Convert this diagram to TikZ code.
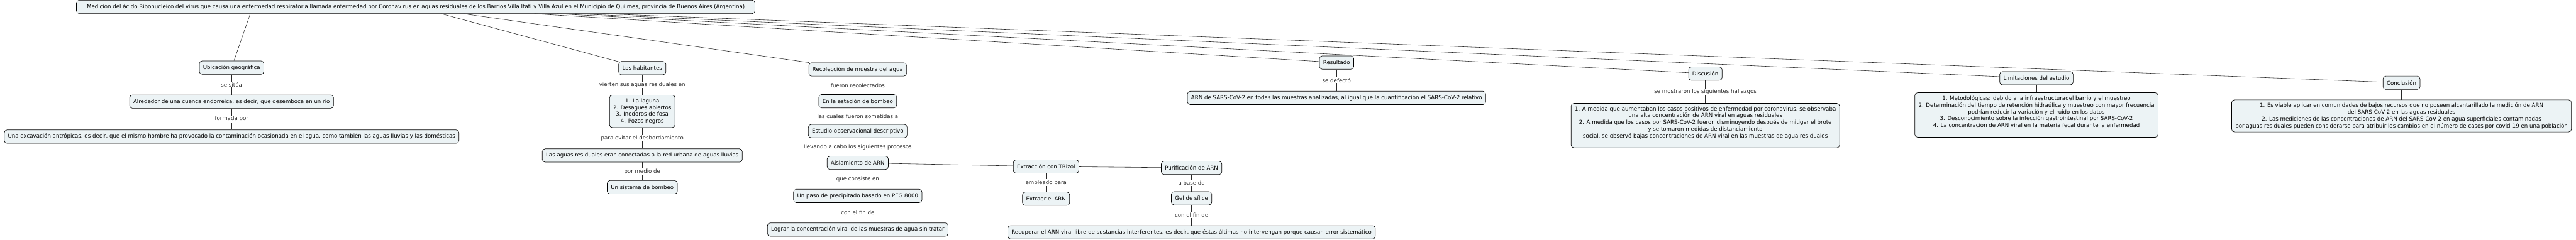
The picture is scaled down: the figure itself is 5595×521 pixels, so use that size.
\documentclass[tikz,border=0pt]{standalone}
\definecolor{cmapFill}{RGB}{236,243,245}
\definecolor{cmapLine}{RGB}{40,40,40}
\usepackage{fontspec}
\setmainfont{DejaVu Sans}
\usepackage{tikz}
\usetikzlibrary{positioning,calc}

\begin{document}
\begin{tikzpicture}[x=1pt,y=-1pt,
    concept/.style={draw=black,fill=cmapFill,rounded corners=6pt,line width=0.9pt,
      font=\fontsize{11.8}{14.7}\selectfont,inner xsep=8pt,inner ysep=7pt,
      minimum height=29pt,align=center},
    link/.style={cmapLine,line width=0.8pt},
    lbl/.style={fill=white,inner sep=1.5pt,font=\fontsize{11.8}{14.7}\selectfont}]
        \useasboundingbox (0,0) rectangle (5595,521);
        % Root concept
        \node[concept,minimum width=1474pt] (root) at (903,15) {Medición del ácido Ribonucleico del virus que causa una enfermedad respiratoria llamada enfermedad por Coronavirus en aguas residuales de los Barrios Villa Itatí y Villa Azul en el Municipio de Quilmes, provincia de Buenos Aires (Argentina)};
        % Exit points on the root
        \coordinate (r1) at ($(root.south west)+(378,0)$);
        \coordinate (r2) at ($(root.south west)+(793,0)$);
        \coordinate (r3) at ($(root.south west)+(841,0)$);
        \coordinate (r4) at ($(root.south west)+(995,0)$);
        \coordinate (r5) at ($(root.south west)+(1044,0)$);
        \coordinate (r6) at ($(root.south west)+(1084,0)$);
        \coordinate (r7) at ($(root.south west)+(1144,0)$);
        % Location branch
        \node[concept] (ubic) at (503,147) {Ubicación geográfica};
        \node[concept] (cuenca) at (503,221) {Alrededor de una cuenca endorreíca, es decir, que desemboca en un río};
        \node[concept] (excav) at (503,297) {Una excavación antrópicas, es decir, que el mismo hombre ha provocado la contaminación ocasionada en el agua, como también las aguas lluvias y las domésticas};
        % Inhabitants branch
        \node[concept] (hab) at (1395,148) {Los habitantes};
        \node[concept,inner ysep=7.5pt] (vertido) at (1395,242) {1. La laguna\\2. Desagues abiertos\\3. Inodoros de fosa\\4. Pozos negros};
        \node[concept] (conex) at (1395,338) {Las aguas residuales eran conectadas a la red urbana de aguas lluvias};
        \node[concept] (bombeo) at (1395,407) {Un sistema de bombeo};
        % Sampling branch
        \node[concept] (recol) at (1863,151) {Recolección de muestra del agua};
        \node[concept] (estac) at (1863,220) {En la estación de bombeo};
        \node[concept] (estud) at (1863,285) {Estudio observacional descriptivo};
        \node[concept] (aisl) at (1863,354) {Aislamiento de ARN};
        \node[concept] (peg) at (1863,426) {Un paso de precipitado basado en PEG 8000};
        \node[concept] (lograr) at (1863,499) {Lograr la concentración viral de las muestras de agua sin tratar};
        \node[concept] (trizol) at (2272,362) {Extracción con TRizol};
        \node[concept] (extraer) at (2272,432) {Extraer el ARN};
        \node[concept] (purif) at (2588,365) {Purificación de ARN};
        \node[concept] (gel) at (2588,431) {Gel de sílice};
        \node[concept] (recup) at (2588,505) {Recuperar el ARN viral libre de sustancias interferentes, es decir, que éstas últimas no intervengan porque causan error sistemático};
        % Results, discussion, limits, conclusion
        \node[concept] (result) at (2903,136) {Resultado};
        \node[concept] (arn) at (2903,213) {ARN de SARS-CoV-2 en todas las muestras analizadas, al igual que la cuantificación el SARS-CoV-2 relativo};
        \node[concept] (disc) at (3704,160) {Discusión};
        \node[concept] (hallaz) at (3704,273) {1. A medida que aumentaban los casos positivos de enfermedad por coronavirus, se observaba\\una alta concentración de ARN viral en aguas residuales\\2. A medida que los casos por SARS-CoV-2 fueron disminuyendo después de mitigar el brote\\y se tomaron medidas de distanciamiento\\social, se observó bajas concentraciones de ARN viral en las muestras de agua residuales\\\mbox{}};
        \node[concept] (limit) at (4423,170) {Limitaciones del estudio};
        \node[concept] (limtxt) at (4423,250) {1. Metodológicas: debido a la infraestructuradel barrio y el muestreo\\2. Determinación del tiempo de retención hidraúlica y muestreo con mayor frecuencia\\podrían reducir la variación y el ruido en los datos\\3. Desconocimiento sobre la infección gastrointestinal por SARS-CoV-2\\4. La concentración de ARN viral en la materia fecal durante la enfermedad\\\mbox{}};
        \node[concept] (concl) at (5216,180) {Conclusión};
        \node[concept] (conctxt) at (5216,252) {1. Es viable aplicar en comunidades de bajos recursos que no poseen alcantarillado la medición de ARN\\del SARS-CoV-2 en las aguas residuales\\2. Las mediciones de las concentraciones de ARN del SARS-CoV-2 en agua superficiales contaminadas\\por aguas residuales pueden considerarse para atribuir los cambios en el número de casos por covid-19 en una población};
        % Links from the root
        \draw[link] (r1) -- (ubic);
        \draw[link] (r2) -- (hab);
        \draw[link] (r3) -- (recol);
        \draw[link] (r4) -- (result);
        \draw[link] (r5) -- (disc);
        \draw[link] (r6) -- (limit);
        \draw[link] (r7) -- (concl);
        % Labelled links
        \draw[link] (ubic) -- node[lbl] {se sitúa} (cuenca);
        \draw[link] (cuenca) -- node[lbl] {formada por} (excav);
        \draw[link] (hab) -- node[lbl] {vierten sus aguas residuales en} (vertido);
        \draw[link] (vertido) -- node[lbl] {para evitar el desbordamiento} (conex);
        \draw[link] (conex) -- node[lbl] {por medio de} (bombeo);
        \draw[link] (recol) -- node[lbl] {fueron recolectados} (estac);
        \draw[link] (estac) -- node[lbl] {las cuales fueron sometidas a} (estud);
        \draw[link] (estud) -- node[lbl] {llevando a cabo los siguientes procesos} (aisl);
        \draw[link] (aisl) -- node[lbl] {que consiste en} (peg);
        \draw[link] (peg) -- node[lbl] {con el fin de} (lograr);
        \draw[link] (aisl) -- (trizol);
        \draw[link] (trizol) -- (purif);
        \draw[link] (trizol) -- node[lbl] {empleado para} (extraer);
        \draw[link] (purif) -- node[lbl] {a base de} (gel);
        \draw[link] (gel) -- node[lbl] {con el fin de} (recup);
        \draw[link] (result) -- node[lbl] {se defectó} (arn);
        \draw[link] (disc) -- node[lbl] {se mostraron los siguientes hallazgos} (hallaz);
        \draw[link] (limit) -- (limtxt);
        \draw[link] (concl) -- (conctxt);
\end{tikzpicture}
\end{document}
